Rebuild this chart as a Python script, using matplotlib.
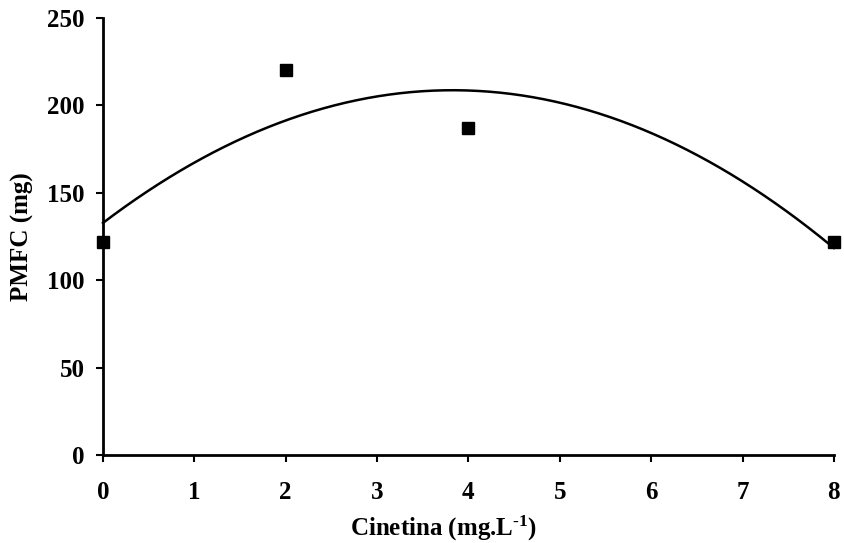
import numpy as np
import matplotlib
matplotlib.use("Agg")
import matplotlib.pyplot as plt

# data
cinetina = [0, 2, 4, 8]
pmfc = [122, 220, 187, 122]

plt.rcParams['font.family'] = ['Liberation Serif', 'DejaVu Serif']
plt.rcParams['font.weight'] = 'bold'
plt.rcParams['mathtext.default'] = 'regular'
plt.rcParams['axes.unicode_minus'] = False

fig = plt.figure(figsize=(8.44, 5.43), dpi=100)
ax = fig.add_axes([0.122, 0.162, 0.866, 0.805])

# quadratic trend line fitted to the points
coef = np.polyfit(cinetina, pmfc, 2)
xs = np.linspace(0, 8, 200)
ax.plot(xs, np.polyval(coef, xs), color='black', lw=1.8, clip_on=False)
ax.plot(cinetina, pmfc, 's', color='black', ms=8, clip_on=False, zorder=3)

ax.set_xlim(0, 8)
ax.set_ylim(0, 250)
ax.set_xticks(range(0, 9))
ax.set_yticks(range(0, 251, 50))
for s in ['top', 'right']:
    ax.spines[s].set_visible(False)
for s in ['left', 'bottom']:
    ax.spines[s].set_linewidth(2)
ax.tick_params(axis='both', labelsize=18, width=1.5, length=5, direction='out')
ax.tick_params(axis='x', pad=14)
ax.tick_params(axis='y', pad=8)

ax.set_xlabel('Cinetina (mg.L$^{\u20101}$)', fontsize=18, fontweight='bold')
ax.xaxis.set_label_coords((444 - 103) / 731, -0.135)
ax.set_ylabel('PMFC (mg)', fontsize=18, fontweight='bold')
ax.yaxis.set_label_coords(-0.095, 0.5)

fig.savefig('out.png', dpi=100)
